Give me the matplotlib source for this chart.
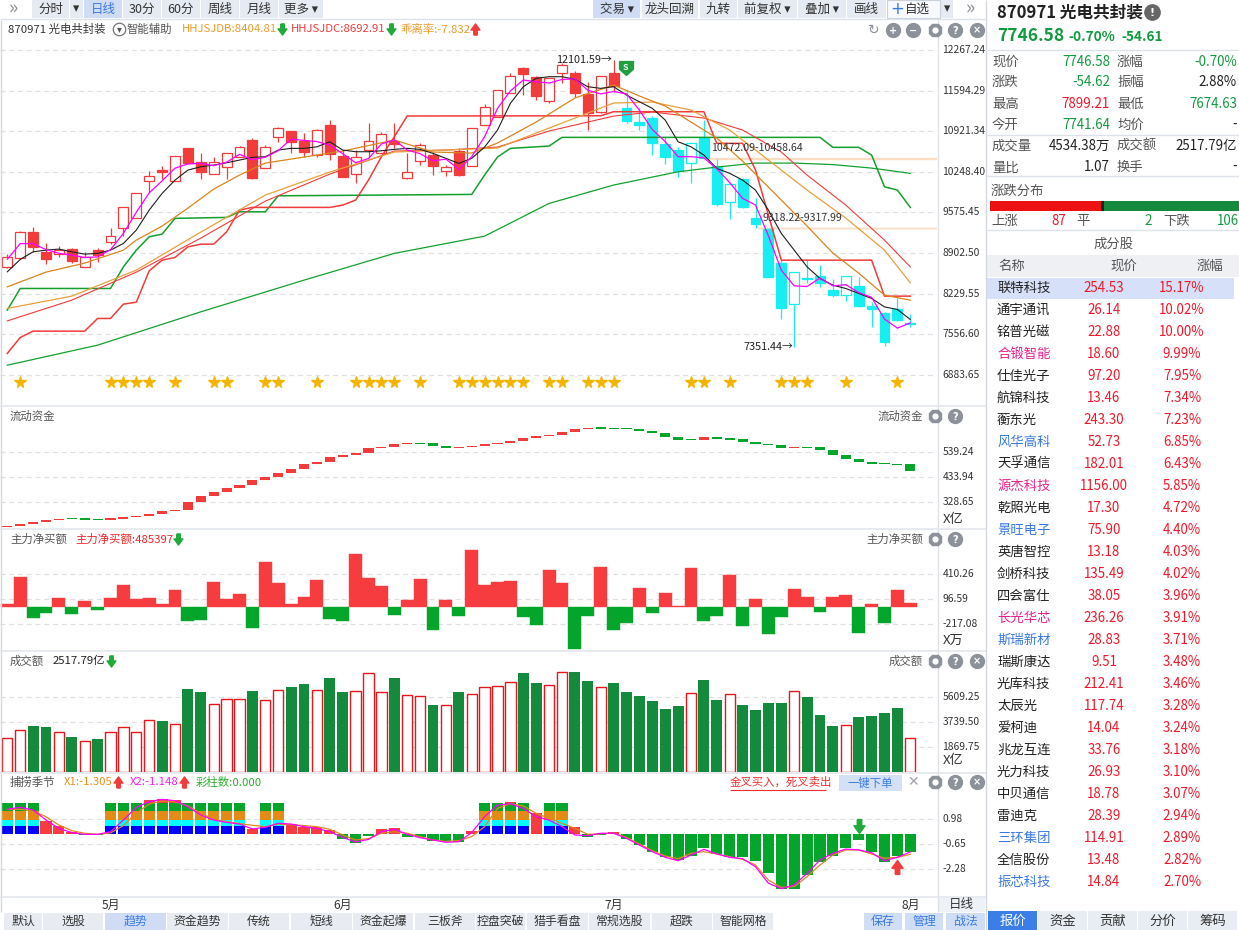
import numpy as np
import matplotlib
matplotlib.use("Agg")
import matplotlib.pyplot as plt
from matplotlib.patches import Rectangle
from matplotlib.transforms import blended_transform_factory

plt.rcParams['font.family'] = ['Noto Sans CJK SC', 'DejaVu Sans']
plt.rcParams['axes.unicode_minus'] = False

W, H = 1239, 930

# ------------------------------------------------------------------
# daily candles, 870971 光电共封装 (late April -> 1 Aug)
# ------------------------------------------------------------------
opens = [8676, 8815, 9247, 8924, 8881, 8963, 8676, 8947, 9080, 9312,
         9478, 10091, 10278, 10091, 10637, 10416, 10207, 10323, 10499, 10777,
         10307, 10820, 10920, 10754, 10522, 11024, 10510, 10212, 10610, 10555,
         10764, 10151, 10427, 10527, 10266, 10593, 10350, 11024, 11162, 11550,
         11964, 11815, 11427, 11881, 11891, 11538, 11245, 11881, 11301, 11079,
         11135, 10704, 10610, 10400, 10813, 10344, 9753, 10129, 9478, 9300,
         8742, 8052, 8494, 8521, 8289, 8206, 8356, 8029, 7903, 7969, 7741.64]
highs = [8880, 9267, 9328, 9063, 9023, 8985, 8919, 8980, 9317, 9660,
         9892, 10257, 10349, 10515, 10637, 10560, 10499, 10555, 10680, 10813,
         10688, 10990, 10930, 10887, 10953, 11107, 10610, 10610, 11052, 10913,
         11052, 10555, 10720, 10555, 10361, 10637, 10970, 11372, 11604, 11881,
         11980, 11830, 11798, 12047, 11919, 11742, 11836, 12101.59, 11604, 11328,
         11173, 10830, 10665, 10748, 11107, 10458.64, 10085, 10140, 9809, 9317.99,
         8786, 8582, 8786, 8704, 8466, 8526, 8499, 8096, 7930, 8152, 7899.21]
lows = [8660, 8800, 8924, 8715, 8841, 8742, 8676, 8758, 9060, 9189,
        9478, 9919, 10124, 10091, 10389, 10134, 10207, 10124, 10499, 10129,
        10307, 10750, 10555, 10499, 10489, 10444, 10167, 10058, 10472, 10555,
        10638, 10124, 10356, 10195, 10178, 10178, 10350, 11024, 11162, 11550,
        11521, 11438, 11384, 11715, 11493, 10941, 11218, 11576, 11062, 10941,
        10527, 10378, 10167, 10058, 10472.09, 9687, 9466, 9650, 9318.22, 8500,
        7804, 7351.44, 8410, 8334, 8168, 8112, 8002, 7671, 7360, 7780, 7674.63]
closes = [8841, 9245, 9007, 8803, 8957, 8775, 8841, 8869, 9179, 9660,
          9892, 10174, 10240, 10515, 10389, 10250, 10416, 10555, 10655, 10151,
          10666, 10970, 10748, 10582, 10936, 10538, 10167, 10499, 10754, 10870,
          10709, 10240, 10693, 10350, 10323, 10195, 10970, 11328, 11604, 11836,
          11864, 11510, 11798, 12019, 11550, 11228, 11836, 11675, 11095, 11024,
          10731, 10499, 10267, 10720, 10480, 9715, 10046, 9670, 9378, 8510,
          7986, 8582, 8466, 8410, 8206, 8526, 8024, 7969, 7432, 7801.2, 7746.58]
trend_flip = 48          # first candle of the falling (cyan) phase
sell_signal = 47         # "S" mark
month_names = ['5月', '6月', '7月', '8月']
month_idx = [8, 26, 47, 70]
star_idx = [1, 8, 9, 10, 11, 13, 16, 17, 20, 21, 24, 27, 28, 29, 30, 32, 35, 36,
            37, 38, 39, 40, 42, 43, 45, 46, 47, 53, 54, 56, 60, 61, 62, 65, 69]
gaps = [(54, 10472.09, 10458.64), (58, 9318.22, 9317.99)]

ma_magenta = [8800, 9060, 9060, 8960, 8900, 8870, 8830, 8840, 8960, 9230,
              9580, 9900, 10100, 10310, 10380, 10390, 10350, 10410, 10540, 10450,
              10490, 10600, 10790, 10770, 10750, 10690, 10550, 10400, 10470, 10710,
              10780, 10610, 10550, 10430, 10460, 10290, 10500, 10830, 11300, 11590,
              11770, 11740, 11720, 11780, 11790, 11600, 11540, 11580, 11540, 11270,
              10950, 10750, 10500, 10500, 10480, 10300, 10070, 9810, 9700, 9190,
              8620, 8360, 8350, 8490, 8360, 8380, 8250, 8170, 7810, 7660, 7747]
ma_black = [8593, 8798, 8924, 8952, 8969, 8924, 8886, 8898, 8952, 9063,
            9284, 9615, 9892, 10112, 10278, 10333, 10361, 10399, 10444, 10489,
            10499, 10610, 10638, 10638, 10664, 10747, 10610, 10582, 10582, 10598,
            10621, 10638, 10621, 10555, 10472, 10389, 10472, 10659, 10941, 11384,
            11659, 11798, 11825, 11825, 11782, 11659, 11632, 11659, 11521, 11410,
            11301, 11107, 10747, 10664, 10527, 10306, 10224, 10112, 9947, 9615,
            9229, 8952, 8675, 8483, 8372, 8317, 8235, 8152, 8012, 7969, 7804]
ma_orange1_idx = [0, 3, 6, 9, 10, 12, 14, 16, 18, 20, 23, 26, 30, 33, 36, 38, 41, 44,
                  47, 49, 51, 53, 55, 57, 59, 62, 64, 66, 68, 70]
ma_orange1 = [8344, 8588, 8737, 8952, 9118, 9350, 9648, 9963, 10195, 10394, 10494,
              10593, 10776, 10577, 10560, 10726, 11074, 11472, 11687, 11505, 11339,
              11074, 10809, 10427, 9996, 9350, 8903, 8571, 8206, 8124]
ma_orange2_idx = [0, 5, 10, 15, 20, 25, 30, 34, 38, 42, 47, 50, 53, 56, 58, 62, 65, 68, 70]
ma_orange2 = [7986, 8190, 8621, 9251, 9864, 10245, 10577, 10610, 10643, 10974, 11389,
              11405, 11273, 10941, 10610, 9947, 9483, 8952, 8410]
ma_red_idx = [0, 5, 10, 15, 20, 25, 30, 34, 38, 42, 47, 50, 54, 57, 60, 62, 65, 68, 70]
ma_red = [7780, 8124, 8588, 9151, 9764, 10212, 10593, 10610, 10659, 10925, 11173,
          11240, 11140, 10941, 10577, 10195, 9698, 9118, 8675]
ma_green_idx = [0, 7, 15, 23, 30, 37, 42, 47, 52, 55, 58, 61, 64, 67, 70]
ma_green = [7046, 7378, 7930, 8455, 8898, 9184, 9726, 10030, 10250, 10328, 10394,
            10394, 10369, 10311, 10224]
step_red_idx = [0, 1, 2, 6, 7, 8, 9, 10, 11, 12, 13, 14, 15, 16, 17, 18, 19, 25, 26,
                27, 28, 29, 30, 31, 46, 47, 54, 55, 57, 58, 60, 67, 68, 70]
step_red = [7240, 7505, 7610, 7610, 7820, 7820, 8057, 8090, 8609, 8786, 8831, 9006,
            9051, 9051, 9255, 9615, 9660, 9660, 9698, 9781, 10112, 10499, 10830,
            11174, 11178, 11245, 11245, 10721, 10721, 10280, 8786, 8786, 8190, 8190]
step_green_idx = [0, 1, 8, 9, 10, 11, 12, 13, 17, 18, 20, 21, 36, 37, 38, 39, 42, 43,
                  63, 64, 66, 67, 68, 69, 70]
step_green = [7958, 8317, 8317, 8675, 8952, 9173, 9217, 9478, 9494, 9587, 9587, 9852,
              9875, 10195, 10494, 10638, 10676, 10820, 10820, 10655, 10655, 10527,
              10001, 9947, 9660]

# 流动资金 (亿)
flow_start = 225
flow = [229, 237, 246, 254, 260, 259, 258, 257, 260, 267, 271, 280, 292, 296, 330,
        355, 372, 389, 402, 423, 435, 452, 469, 490, 498, 519, 528, 536, 557, 562,
        574, 578, 577, 567, 559, 562, 566, 573, 580, 587, 599, 608, 614, 625, 637,
        642, 641, 640, 639, 630, 622, 605, 592, 591, 604, 597, 594, 584, 573, 570,
        559, 562, 560, 550, 529, 512, 500, 491, 490, 489, 462]
# 主力净买额 (万)
net_buy = [33, 376, -138, -75, 109, -88, 71, -38, 109, 272,
           96, 109, 33, 209, -176, -163, 309, 96, 159, -263,
           560, 297, 33, 121, 334, -150, -176, 660, 359, 259,
           -100, 84, 347, -288, 84, -113, 711, 272, 309, 322,
           -125, -226, 460, 297, -527, -113, 502, -288, -201, 234,
           -75, 171, 8, 489, -176, -113, 401, -238, 96, -339,
           -125, 222, 121, -63, 121, 146, -326, 33, -201, 209, 46]
net_buy_last = 485397
# 成交额 (亿)
turnover = [2493, 3116, 3415, 3341, 2942, 2593, 2294, 2443, 2942, 3316,
            2967, 3839, 3789, 3565, 6183, 5958, 5061, 5410, 5410, 6033,
            5335, 6083, 6332, 6557, 6083, 7005, 5958, 6008, 7354, 5933,
            7005, 5709, 5634, 4986, 4961, 5958, 5809, 6307, 6407, 6681,
            7379, 6631, 6482, 7429, 7454, 6781, 6307, 6631, 5958, 5659,
            5285, 4687, 4911, 5858, 6856, 5360, 5784, 4986, 4612, 5136,
            5136, 6008, 5584, 4238, 3415, 3465, 4088, 4163, 4388, 4762, 2517.79]
# 捕捞季节
catch_hist = [1.6, 1.7, 1.5, 0.87, 0.54, 0.17, -0.05, -0.07, 0.3, 1.0,
              1.8, 2.24, 2.30, 2.24, 1.9, 1.4, 1.0, 0.8, 0.7, 0.33,
              0.5, 0.7, 0.70, 0.48, 0.46, 0.28, -0.33, -0.54, -0.1, 0.33,
              0.39, -0.15, -0.15, -0.41, -0.46, -0.48, 0.22, 1.2, 1.9, 2.1,
              1.8, 1.41, 1.0, 0.6, 0.5, -0.2, -0.05, 0.15, -0.28, -0.7,
              -1.13, -1.46, -1.67, -1.39, -0.91, -1.28, -1.5, -1.5, -1.72, -2.54,
              -3.56, -3.56, -2.65, -1.8, -1.39, -0.91, -0.37, -1.13, -1.8, -1.39, -1.13]
caizhu_idx = [0, 1, 2, 8, 9, 10, 11, 12, 13, 14, 15, 16, 17, 18, 20, 21, 37, 38, 39, 40, 42, 43]
x1_line = [1.63, 1.63, 1.52, 1.15, 0.61, 0.24, 0.07, 0.0, 0.09, 0.57,
           1.37, 1.98, 2.17, 2.13, 1.85, 1.37, 0.98, 0.83, 0.70, 0.59,
           0.50, 0.67, 0.63, 0.57, 0.50, 0.33, -0.04, -0.37, -0.28, 0.07,
           0.17, 0.07, -0.15, -0.37, -0.46, -0.41, -0.15, 0.50, 1.69, 2.0,
           1.85, 1.37, 1.04, 0.72, 0.39, 0.0, 0.04, 0.07, -0.20, -0.63,
           -1.06, -1.41, -1.59, -1.24, -1.13, -1.28, -1.46, -1.63, -2.0, -2.98,
           -3.46, -3.41, -2.76, -2.0, -1.35, -1.02, -1.02, -1.28, -1.56, -1.50, -1.305]
x2_line = [1.63, 1.76, 1.59, 0.93, 0.39, 0.11, 0.0, 0.0, 0.17, 0.93,
           1.76, 2.13, 2.28, 2.19, 1.80, 1.26, 0.93, 0.78, 0.67, 0.35,
           0.46, 0.72, 0.67, 0.50, 0.39, 0.17, -0.20, -0.50, -0.33, 0.17,
           0.33, 0.0, -0.22, -0.37, -0.52, -0.48, 0.11, 1.15, 1.91, 2.0,
           1.69, 1.15, 0.93, 0.50, -0.04, -0.09, 0.07, 0.07, -0.26, -0.70,
           -1.13, -1.50, -1.72, -1.35, -0.98, -1.28, -1.50, -1.59, -2.11, -3.19,
           -3.54, -3.30, -2.54, -1.67, -1.24, -0.96, -1.02, -1.20, -1.72, -1.50, -1.148]
catch_sell = 66
catch_buy = 69

price_ticks = [12267.24, 11594.29, 10921.34, 10248.40, 9575.45, 8902.50, 8229.55, 7556.60, 6883.65]
flow_ticks = [539.24, 433.94, 328.65]
net_ticks = [410.26, 96.59, -217.08]
vol_ticks = [5609.25, 3739.50, 1869.75]
catch_ticks = [0.98, -0.65, -2.28]

# quote block
prev_close = 7801.20
quote_names_l = ['现价', '涨跌', '最高', '今开', '成交量', '量比']
quote_vals_l = ['7746.58', '-54.62', '7899.21', '7741.64', '4534.38万', '1.07']
quote_names_r = ['涨幅', '振幅', '最低', '均价', '成交额', '换手']
quote_vals_r = ['-0.70%', '2.88%', '7674.63', '-', '2517.79亿', '-']
breadth_up, breadth_flat, breadth_down = 87, 2, 106

stock_names = ['联特科技', '通宇通讯', '铭普光磁', '合锻智能', '仕佳光子', '航锦科技', '蘅东光',
               '风华高科', '天孚通信', '源杰科技', '乾照光电', '景旺电子', '英唐智控', '剑桥科技',
               '四会富仕', '长光华芯', '斯瑞新材', '瑞斯康达', '光库科技', '太辰光', '爱柯迪',
               '兆龙互连', '光力科技', '中贝通信', '雷迪克', '三环集团', '全信股份', '振芯科技']
stock_prices = [254.53, 26.14, 22.88, 18.60, 97.20, 13.46, 243.30, 52.73, 182.01, 1156.00,
                17.30, 75.90, 13.18, 135.49, 38.05, 236.26, 28.83, 9.51, 212.41, 117.74,
                14.04, 33.76, 26.93, 18.78, 28.39, 114.91, 13.48, 14.84]
stock_pcts = [15.17, 10.02, 10.00, 9.99, 7.95, 7.34, 7.23, 6.85, 6.43, 5.85, 4.72, 4.40,
              4.03, 4.02, 3.96, 3.91, 3.71, 3.48, 3.46, 3.28, 3.24, 3.18, 3.10, 3.07,
              2.94, 2.89, 2.82, 2.70]
pink_names = {'合锻智能', '源杰科技', '长光华芯'}
blue_names = {'风华高科', '景旺电子', '斯瑞新材', '三环集团', '振芯科技'}

# ------------------------------------------------------------------
RED = '#F23B3B'
CYAN = '#17EEF2'
GREEN_BAR = '#03A52B'
VOL_GREEN = '#138A3C'
GRAY_T = '#555555'
DARK_T = '#222222'
BLUE_T = '#3A7BE0'
TXT_GREEN = '#119A3F'
TXT_RED = '#F0182B'

fig = plt.figure(figsize=(W / 100, H / 100), dpi=100)
fig.patch.set_facecolor('white')

XL = (-7.3 / 12.9, (937 - 7.3) / 12.9)
n = len(closes)
idx = np.arange(n)


def px_rect(x0, y0, x1, y1):
    return [x0 / W, 1 - y1 / H, (x1 - x0) / W, (y1 - y0) / H]


def lim_from(va, ya, vb, yb, y0, y1):
    k = (va - vb) / (yb - ya)
    return (va - (y1 - ya) * k, va + (ya - y0) * k), k


def panel(y0, y1, ylim):
    ax = fig.add_axes(px_rect(0, y0, 937, y1))
    ax.set_xlim(*XL)
    ax.set_ylim(*ylim)
    ax.set_axis_off()
    return ax


def grid_and_labels(ax, ticks, fmt='{:.2f}'):
    for v in ticks:
        ax.axhline(v, color='#E0E0E0', lw=0.9, ls=(0, (4, 3)), zorder=0)
        ax.annotate(fmt.format(v), xy=(1, v), xycoords=('axes fraction', 'data'),
                    xytext=(4.0, 0), textcoords='offset points', ha='left', va='center',
                    fontsize=7.4, color='#333333', annotation_clip=False)


# ---------------- main candle panel ----------------
lim, kp = lim_from(12267.24, 50, 6883.65, 375, 40, 397)
ax1 = panel(40, 397, lim)
grid_and_labels(ax1, price_ticks)

for gi, g_hi, g_lo in gaps:
    ax1.hlines([g_hi, g_lo], gi + 0.2, XL[1], colors='#FCDDC4', lw=1.0, zorder=1)
    ax1.text(gi + 0.55, g_hi + 10 * kp, f'{g_hi:.2f}-{g_lo:.2f}', fontsize=7.6,
             color='#333333', va='center', zorder=7)

for i in range(n):
    col = RED if i < trend_flip else CYAN
    o, h, l, c = opens[i], highs[i], lows[i], closes[i]
    ax1.plot([i, i], [l, h], color=col, lw=0.9, zorder=3, solid_capstyle='butt')
    lo, hi = min(o, c), max(o, c)
    bh = hi - lo
    if bh < kp:
        lo = (o + c) / 2 - kp / 2
        bh = kp
    ax1.add_patch(Rectangle((i - 0.38, lo), 0.76, bh, facecolor='white' if c > o else col,
                            edgecolor=col, lw=0.9, zorder=4))

ax1.plot(ma_green_idx, ma_green, color='#14A02E', lw=0.9, zorder=5)
ax1.plot(step_green_idx, step_green, color='#14A02E', lw=1.1, zorder=5)
ax1.plot(step_red_idx, step_red, color='#F23B3B', lw=1.1, zorder=5)
ax1.plot(ma_red_idx, ma_red, color='#F23B3B', lw=0.8, zorder=5)
ax1.plot(ma_orange2_idx, ma_orange2, color='#E9A03C', lw=0.9, zorder=5)
ax1.plot(ma_orange1_idx, ma_orange1, color='#DA851C', lw=0.9, zorder=5)
ax1.plot(idx, ma_black, color='#1E1E1E', lw=0.8, zorder=5)
ax1.plot(idx, ma_magenta, color='#FF00FF', lw=0.9, zorder=5)

trans = blended_transform_factory(ax1.transData, ax1.transAxes)
ax1.plot(star_idx, [(397 - 382) / 357.0] * len(star_idx), ls='none', marker='*', ms=8.5,
         color='#F5B400', transform=trans, zorder=6)

hi_i = int(np.argmax(highs))
lo_i = int(np.argmin(lows))
ax1.text(hi_i - 0.1, highs[hi_i], f'{highs[hi_i]:.2f}→', ha='right', va='center',
         fontsize=7.8, color=DARK_T, zorder=7)
ax1.text(lo_i - 0.1, lows[lo_i], f'{lows[lo_i]:.2f}→', ha='right', va='center',
         fontsize=7.8, color=DARK_T, zorder=7)

SHIELD = [(-1, 1), (1, 1), (1, -0.1), (0, -1), (-1, -0.1), (-1, 1)]
ax1.plot(sell_signal + 0.95, highs[sell_signal] - 8 * kp, marker=SHIELD, ms=10,
         color='#1F9F3F', zorder=8)
ax1.text(sell_signal + 0.95, highs[sell_signal] - 7 * kp, 'S', color='white', fontsize=6.5,
         fontweight='bold', ha='center', va='center', zorder=9)

# ---------------- 流动资金 ----------------
lim, kf = lim_from(539.24, 452.3, 328.65, 502.3, 406, 528)
ax2 = panel(406, 528, lim)
grid_and_labels(ax2, flow_ticks)
prev = [flow_start] + flow[:-1]
for i in range(n):
    a, b = prev[i], flow[i]
    lo, hgt = min(a, b), abs(b - a)
    if hgt < 1.2 * kf:
        lo = (a + b) / 2 - 0.6 * kf
        hgt = 1.2 * kf
    ax2.add_patch(Rectangle((i - 0.39, lo), 0.78, hgt, facecolor=RED if b >= a else GREEN_BAR,
                            edgecolor='none', zorder=3))

# ---------------- 主力净买额 ----------------
lim, kn = lim_from(410.26, 574.3, -217.08, 624.3, 529, 650)
ax3 = panel(529, 650, lim)
grid_and_labels(ax3, net_ticks)
nb_cols = ['#F63C3F' if v > 0 else GREEN_BAR for v in net_buy]
ax3.bar(idx, net_buy, width=1.0, color=nb_cols, edgecolor=nb_cols, lw=0.3, zorder=3)

# ---------------- 成交额 ----------------
lim, kv = lim_from(5609.25, 696.7, 1869.75, 746.7, 651, 772)
ax4 = panel(651, 772, lim)
grid_and_labels(ax4, vol_ticks)
for i in range(n):
    if closes[i] > opens[i]:
        ax4.bar(i, turnover[i], width=0.8, facecolor='white', edgecolor='#E8161B', lw=1.0, zorder=3)
    else:
        ax4.bar(i, turnover[i], width=0.84, color=VOL_GREEN, lw=0, zorder=3)

# ---------------- 捕捞季节 ----------------
lim, kc = lim_from(0.98, 819.3, -2.28, 869.3, 773, 897)
ax5 = panel(773, 897, lim)
grid_and_labels(ax5, catch_ticks)
h_cols = ['#F63C3F' if v > 0 else GREEN_BAR for v in catch_hist]
ax5.bar(idx, catch_hist, width=0.86, color=h_cols, lw=0, zorder=2)
stack_bottoms = [0.0, 0.52, 0.96, 1.50]
stack_heights = [0.52, 0.44, 0.54, 0.52]
stack_cols = ['#0000FF', '#00FFFF', '#E38A17', GREEN_BAR]
for b0, hh, cc in zip(stack_bottoms, stack_heights, stack_cols):
    ax5.bar(caizhu_idx, [hh] * len(caizhu_idx), bottom=b0, width=0.86, color=cc, lw=0, zorder=3)
ax5.plot(idx, x1_line, color='#E08A1E', lw=0.9, zorder=4)
ax5.plot(idx, x2_line, color='#FF00FF', lw=0.9, zorder=5)

DOWN = [(-0.32, 1), (0.32, 1), (0.32, 0.1), (0.8, 0.1), (0, -1), (-0.8, 0.1), (-0.32, 0.1), (-0.32, 1)]
UP = [(x, -y) for x, y in DOWN]
ax5.plot(catch_sell, 0.55, marker=DOWN, ms=10, color='#1FAA3A', zorder=6)
ax5.plot(catch_buy, x1_line[catch_buy] - 0.65, marker=UP, ms=10, color='#F23B3B', zorder=6)

# ------------------------------------------------------------------
# overlay: toolbars, headers, right-hand quote panel
# ------------------------------------------------------------------
ov = fig.add_axes([0, 0, 1, 1], zorder=10)
ov.set_xlim(0, W)
ov.set_ylim(H, 0)
ov.set_axis_off()
ov.patch.set_alpha(0)
renderer = fig.canvas.get_renderer()


def t(x, y, s, **kw):
    kw.setdefault('fontsize', 8.6)
    kw.setdefault('color', DARK_T)
    return ov.text(x, y, s, va='center', **kw)


def right_of(txt, gap):
    bb = txt.get_window_extent(renderer)
    return ov.transData.inverted().transform((bb.x1, 0))[0] + gap


def rect(x0, y0, x1, y1, fc, ec='none', lw=0.8):
    ov.add_patch(Rectangle((x0, y0), x1 - x0, y1 - y0, facecolor=fc, edgecolor=ec, lw=lw))


def hline(x0, x1, y, c='#DDE2EA', lw=1.0):
    ov.plot([x0, x1], [y, y], color=c, lw=lw, solid_capstyle='butt')


def vline(x, y0, y1, c='#DDE2EA', lw=1.0):
    ov.plot([x, x], [y0, y1], color=c, lw=lw, solid_capstyle='butt')


def icon(x, y, kind):
    g = '#8C919A'
    if kind == 'gear':
        ov.plot(x, y, marker='8', ms=9.5, color=g)
        ov.plot(x, y, marker='o', ms=3.5, color='white')
        return
    ov.plot(x, y, marker='o', ms=10, color=g)
    glyph = {'q': '?', 'x': '×', 'plus': '+', 'minus': '−'}[kind]
    ov.text(x, y + 0.5, glyph, color='white', fontsize=7, fontweight='bold', ha='center',
            va='center', family=['DejaVu Sans'])


def arrow_after(txt, up, gap=5):
    y = txt.get_position()[1]
    ov.plot(right_of(txt, gap), y, marker=UP if up else DOWN, ms=8,
            color='#F23B3B' if up else '#1FAA3A')


# top toolbar
t(13, 9, '»', fontsize=14, color='#8A8F99', ha='center')
left_btns = [(32, 69, '分时', False), (70, 83, '▾', False), (84, 122, '日线', True),
             (123, 161, '30分', False), (162, 200, '60分', False), (201, 239, '周线', False),
             (240, 278, '月线', False), (279, 323, '更多 ▾', False)]
right_btns = [(593, 640, '交易 ▾', True), (642, 698, '龙头回溯', False), (700, 737, '九转', False),
              (738, 797, '前复权 ▾', False), (798, 846, '叠加 ▾', False), (847, 886, '画线', False),
              (941, 953, '▾', False)]
for x0, x1, s, hl in left_btns + right_btns:
    rect(x0, 0, x1, 18, '#CFDCF3' if hl else '#E6EAF2')
    t((x0 + x1) / 2, 9, s, ha='center', fontsize=9,
      color=BLUE_T if (hl and s == '日线') else '#333333')
rect(887, 0.5, 940, 18, '#F7F9FC', ec='#C9D1DD')
t(897, 9, '+', ha='center', fontsize=12, color=BLUE_T, family=['DejaVu Sans'])
t(905, 9, '自选', fontsize=9, color='#333333')
t(970, 9, '»', fontsize=14, color='#8A8F99', ha='center')
hline(0, 985, 19.5)

# chart frame
vline(0.6, 20, 912, c='#D3D9E3')
vline(937.5, 20, 912, c='#DDE1E8')
vline(986, 0, 930, c='#D3D8E0')
for yy in (406, 529, 651, 773, 897):
    hline(0, 986, yy, c='#E3E6EB', lw=1.2)

# main header
HF = 8.2
t(8, 29, '870971 光电共封装', fontsize=HF, color='#333333')
ov.plot(119, 29, marker='o', ms=9, mfc='white', mec='#777777', mew=0.9)
t(119, 29.5, '▾', ha='center', fontsize=7, color='#555555')
t(127, 29, '智能辅助', fontsize=HF, color=GRAY_T)
tx = t(182, 29, 'HHJSJDB:8404.81', fontsize=HF, color='#EC9C2F')
arrow_after(tx, False)
tx = t(291, 29, 'HHJSJDC:8692.91', fontsize=HF, color='#F23B3B')
arrow_after(tx, False)
tx = t(400, 29, '乖离率:-7.832', fontsize=HF, color='#EC9C2F')
arrow_after(tx, True)
t(874, 30, '↻', ha='center', fontsize=10, color='#8C919A', family=['DejaVu Sans'])
icon(893, 30, 'plus')
icon(913, 30, 'minus')
icon(935, 30, 'gear')
icon(955, 30, 'q')
icon(977, 30, 'x')

# sub-panel headers
t(10, 416, '流动资金', fontsize=HF, color=GRAY_T)
t(923, 416, '流动资金', fontsize=HF, color=GRAY_T, ha='right')
icon(935, 416, 'gear')
icon(955, 416, 'q')
t(943, 519, 'X亿', fontsize=9.5, color='#333333')

t(10, 539, '主力净买额', fontsize=HF, color=GRAY_T)
tx = t(75, 539, f'主力净买额:{net_buy_last}', fontsize=HF, color='#F0262B')
arrow_after(tx, False)
t(923, 539, '主力净买额', fontsize=HF, color=GRAY_T, ha='right')
icon(935, 539, 'gear')
icon(955, 539, 'q')
t(943, 640, 'X万', fontsize=9.5, color='#333333')

t(10, 661, '成交额', fontsize=HF, color=GRAY_T)
tx = t(53, 661, f'{turnover[-1]:.2f}亿', fontsize=HF, color=DARK_T)
arrow_after(tx, False)
t(923, 661, '成交额', fontsize=HF, color=GRAY_T, ha='right')
icon(935, 661, 'gear')
icon(955, 661, 'q')
icon(977, 661, 'x')
t(943, 760, 'X亿', fontsize=9.5, color='#333333')

t(10, 782, '捕捞季节', fontsize=HF, color=GRAY_T)
tx = t(64, 782, f'X1:{x1_line[-1]:.3f}', fontsize=HF, color='#E8901C')
arrow_after(tx, True)
x2x = right_of(tx, 17)
tx = t(x2x, 782, f'X2:{x2_line[-1]:.3f}', fontsize=HF, color='#F020F0')
arrow_after(tx, True)
t(right_of(tx, 17), 782, '彩柱数:0.000', fontsize=HF, color='#2DAF2D')
t(730, 782, '金叉买入，死叉卖出', fontsize=HF, color='#F03030')
hline(730, 826, 789.5, c='#F03030', lw=0.8)
rect(839, 775, 902, 791, '#D3E0F5')
t(870.5, 783, '一键下单', ha='center', fontsize=HF, color=BLUE_T)
t(913, 782, '✕', ha='center', fontsize=10, color='#A0A4AA', family=['DejaVu Sans'])
icon(935, 782, 'gear')
icon(955, 782, 'q')
icon(977, 782, 'x')

# x axis labels
for name, mi in zip(month_names, month_idx):
    t(7.3 + 12.9 * mi, 905, name, ha='center', color='#333333')
rect(938, 897.5, 985, 912, '#EEF1F6')
t(961.5, 904, '日线', ha='center', fontsize=9, color='#333333')

# bottom tabs
tabs = [(4, 42, '默认'), (43, 103, '选股'), (105, 166, '趋势'), (167, 228, '资金趋势'),
        (229, 289, '传统'), (291, 352, '短线'), (353, 413, '资金起爆'), (415, 475, '三板斧'),
        (476, 525, '控盘突破'), (527, 588, '猎手看盘'), (589, 650, '常规选股'), (652, 712, '超跌'),
        (713, 773, '智能网格')]
for x0, x1, s in tabs:
    hl = s == '趋势'
    rect(x0, 913, x1, 930, '#D0DCF4' if hl else '#E8ECF2')
    t((x0 + x1) / 2, 921.5, s, ha='center', color=BLUE_T if hl else '#333333')
for x0, x1, s in [(864, 902, '保存'), (905, 943, '管理'), (946, 985, '战法')]:
    rect(x0, 913, x1, 930, '#CFDDF5')
    t((x0 + x1) / 2, 921.5, s, ha='center', color=BLUE_T)

# ---------------- right quote panel ----------------
tx = t(997, 13, '870971 光电共封装', fontsize=12, fontweight='bold', color=DARK_T)
ix = right_of(tx, 9)
ov.plot(ix, 12, marker='o', ms=11, color='#666666')
t(ix, 12.5, '!', ha='center', fontsize=8, fontweight='bold', color='white', family=['DejaVu Sans'])
chg = float(quote_vals_l[1])
updown = TXT_GREEN if chg < 0 else TXT_RED
tx = t(997, 36, quote_vals_l[0], fontsize=12.5, fontweight='bold', color=updown)
tx = t(right_of(tx, 4), 37, quote_vals_r[0], fontsize=9.8, fontweight='bold', color=updown)
t(right_of(tx, 6), 37, '-54.61', fontsize=9.8, fontweight='bold', color=updown)
for yy in (50, 135, 176, 230):
    hline(987, 1239, yy)


def qcolor(name, val):
    if name in ('现价', '最高', '最低', '今开'):
        return TXT_RED if float(val) > prev_close else TXT_GREEN
    if name in ('涨跌', '涨幅'):
        return TXT_GREEN if val.startswith('-') else TXT_RED
    return DARK_T


row_y = [61.7, 82.3, 104, 125, 146, 167.3]
for k in range(6):
    y = row_y[k]
    t(992, y, quote_names_l[k], fontsize=9.6, color=GRAY_T)
    t(1110, y, quote_vals_l[k], fontsize=9.6, ha='right', color=qcolor(quote_names_l[k], quote_vals_l[k]))
    t(1117, y, quote_names_r[k], fontsize=9.6, color=GRAY_T)
    t(1237, y, quote_vals_r[k], fontsize=9.6, ha='right', color=qcolor(quote_names_r[k], quote_vals_r[k]))

t(991, 190.5, '涨跌分布', fontsize=9.6, color=GRAY_T)
tot = breadth_up + breadth_flat + breadth_down
bx0, bx1 = 990, 1239
xr = bx0 + (bx1 - bx0) * breadth_up / tot
xf = xr + max((bx1 - bx0) * breadth_flat / tot, 3)
rect(bx0, 201, xr, 211, '#EE1111')
rect(xr, 201, xf, 211, '#222222')
rect(xf, 201, bx1, 211, '#138A3C')
t(991, 220.5, '上涨', fontsize=9.6, color=GRAY_T)
t(1066, 220.5, str(breadth_up), fontsize=9.6, ha='right', color=TXT_RED)
t(1076, 220.5, '平', fontsize=9.6, color=GRAY_T)
t(1152, 220.5, str(breadth_flat), fontsize=9.6, ha='right', color=TXT_GREEN)
t(1163, 220.5, '下跌', fontsize=9.6, color=GRAY_T)
t(1239, 220.5, str(breadth_down), fontsize=9.6, ha='right', color=TXT_GREEN)

t(1114, 244, '成分股', fontsize=9.6, ha='center', color=GRAY_T)
rect(987, 255, 1239, 277, '#EEF0F4')
t(998, 266, '名称', fontsize=9.6, color=GRAY_T)
t(1124, 266, '现价', fontsize=9.6, ha='center', color=GRAY_T)
t(1210, 266, '涨幅', fontsize=9.6, ha='center', color=GRAY_T)
rect(987, 277.5, 1234, 299, '#D6E0F8')
for k, (nm, pr, pc) in enumerate(zip(stock_names, stock_prices, stock_pcts)):
    y = 288 + 22 * k
    nc = '#E8208C' if nm in pink_names else ('#3A78E0' if nm in blue_names else DARK_T)
    t(997, y, nm, fontsize=9.6, color=nc)
    t(1104, y, f'{pr:.2f}', fontsize=9.6, ha='center', color=TXT_RED)
    t(1182, y, f'{pc:.2f}%', fontsize=9.6, ha='center', color=TXT_RED)

rt = ['报价', '资金', '贡献', '分价', '筹码']
for k, s in enumerate(rt):
    x0 = 988 + 50 * k
    rect(x0, 911, x0 + 49, 930, '#3B7EE8' if k == 0 else '#E8ECF3')
    t(x0 + 24.5, 921, s, ha='center', fontsize=9.6, color='white' if k == 0 else '#333333')

fig.savefig('out.png', dpi=100, facecolor='white')
